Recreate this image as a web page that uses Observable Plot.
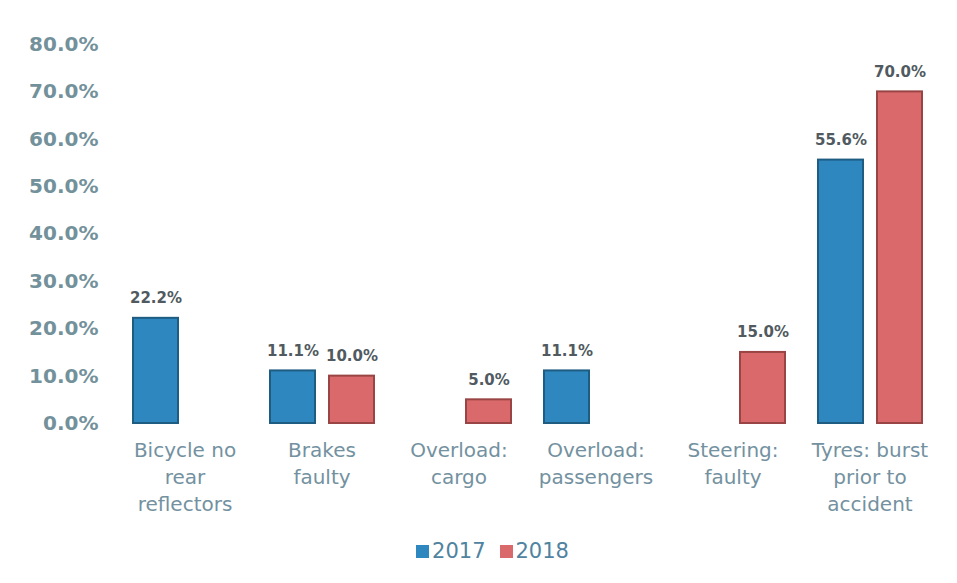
<!DOCTYPE html>
<html>
<head>
<meta charset="utf-8">
<script src="https://cdn.jsdelivr.net/npm/d3@7"></script>
<script src="https://cdn.jsdelivr.net/npm/@observablehq/plot@0.6"></script>
<style>
  body { margin: 0; background: #fff; font-family: "DejaVu Sans", Verdana, sans-serif; }
  #chart { width: 957px; }
  .legend { height: 42px; display: flex; justify-content: center; align-items: center; padding-left: 28px; font-size: 21px; color: #4f83a0; }
  .legend span.sw { display: inline-block; width: 13px; height: 13px; margin-right: 3px; }
  .legend .item { display: flex; align-items: center; margin: 0 7px; }
</style>
</head>
<body>
<div id="chart"></div>
<script>
const categories = ["Bicycle no rear reflectors", "Brakes faulty", "Overload: cargo", "Overload: passengers", "Steering: faulty", "Tyres: burst prior to accident"];
const categoryLabels = ["Bicycle no\nrear\nreflectors", "Brakes\nfaulty", "Overload:\ncargo", "Overload:\npassengers", "Steering:\nfaulty", "Tyres: burst\nprior to\naccident"];
const series = ["2017", "2018"];
const values2017 = [22.2, 11.1, null, 11.1, null, 55.6];
const values2018 = [null, 10.0, 5.0, null, 15.0, 70.0];
const yTicks = [0, 10, 20, 30, 40, 50, 60, 70, 80];
const colors = {"2017": "#2f87c0", "2018": "#d9696a"};
const strokes = {"2017": "#1e5c82", "2018": "#9a4545"};

const data = [];
categories.forEach((c, i) => {
  if (values2017[i] != null) data.push({category: c, year: "2017", value: values2017[i]});
  if (values2018[i] != null) data.push({category: c, year: "2018", value: values2018[i]});
});
const labelOf = new Map(categories.map((c, i) => [c, categoryLabels[i]]));

const plot = Plot.plot({
  width: 957,
  height: 530,
  marginLeft: 116,
  marginRight: 19,
  marginTop: 44,
  marginBottom: 107,
  style: {fontFamily: "DejaVu Sans, Verdana, sans-serif", background: "#fff"},
  fx: {domain: categories, paddingInner: 0, paddingOuter: 0, axis: null},
  x: {domain: series, paddingInner: 0.24, paddingOuter: 0.28, axis: null},
  y: {domain: [0, 80], axis: null},
  marks: [
    Plot.axisY({ticks: yTicks, tickFormat: d => d.toFixed(1) + "%", tickSize: 0, tickPadding: 18, fontSize: 20, fontWeight: "bold", fill: "#73919b", label: null}),
    Plot.axisFx({anchor: "bottom", tickFormat: d => labelOf.get(d), tickSize: 0, tickPadding: 14, fontSize: 20, lineHeight: 1.35, fill: "#7391a0", label: null}),
    Plot.barY(data, {fx: "category", x: "year", y: "value", fill: d => colors[d.year], stroke: d => strokes[d.year], strokeWidth: 2}),
    Plot.text(data, {fx: "category", x: "year", y: "value", text: d => d.value.toFixed(1) + "%", dy: -20, fontSize: 15, fontWeight: "bold", fill: "#505a60"})
  ]
});
document.getElementById("chart").appendChild(plot);

const legend = document.createElement("div");
legend.className = "legend";
series.forEach(s => {
  const item = document.createElement("div");
  item.className = "item";
  const sw = document.createElement("span");
  sw.className = "sw";
  sw.style.background = colors[s];
  item.appendChild(sw);
  item.appendChild(document.createTextNode(s));
  legend.appendChild(item);
});
document.getElementById("chart").appendChild(legend);
</script>
</body>
</html>
